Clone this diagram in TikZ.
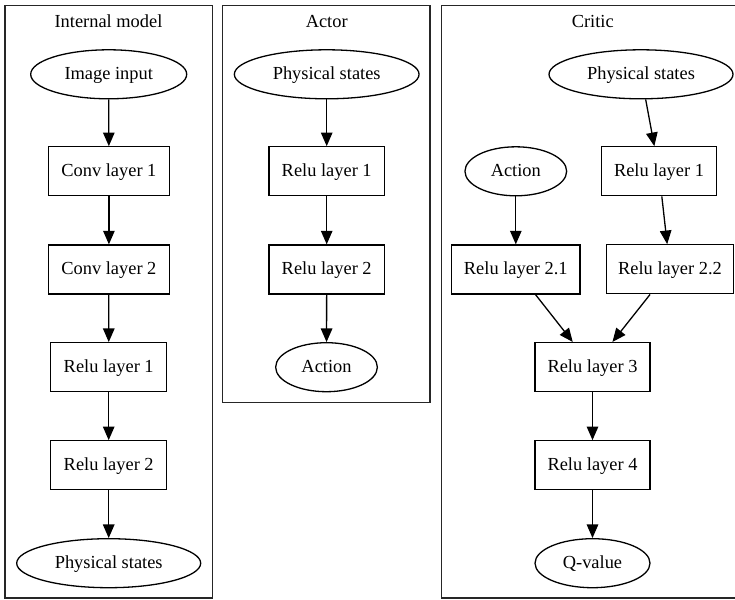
\documentclass[tikz,border=0pt]{standalone}
\usepackage{fontspec}
\setmainfont{Liberation Serif}
\usetikzlibrary{shapes.geometric,arrows.meta}
\tikzset{
  lw/.style={line width=1.3pt},
  txt/.style={font=\fontsize{18.4}{22}\selectfont,text height=14.8pt,text depth=4pt},
  boxnode/.style={draw,lw,rectangle,inner sep=0pt,minimum height=49pt,txt},
  ellnode/.style={draw,lw,ellipse,inner sep=0pt,minimum height=49pt,txt},
  cluster/.style={draw,lw,color=black!85},
  ctitle/.style={inner sep=0pt,txt},
  arr/.style={lw,-{Triangle[length=13.6pt,width=11.5pt]}},
}
\begin{document}
\begin{tikzpicture}[x=1pt,y=-1pt]
\useasboundingbox (0,0) rectangle (735,599);
\fill[white] (0,0) rectangle (735,599);
% clusters
\draw[cluster] (5,5.3) rectangle (212.3,598);
\draw[cluster] (222.7,5.3) rectangle (430,402.7);
\draw[cluster] (441.7,5.3) rectangle (745,598);
\node[ctitle] (t1) at (108.5,22.5) {Internal model};
\node[ctitle] (t2) at (326.7,22.5) {Actor};
\node[ctitle] (t3) at (592.7,22.5) {Critic};
% internal model
\node[ellnode,minimum width=156pt] (img) at (108.7,74.3) {Image input};
\node[boxnode,minimum width=120.6pt] (conv1) at (108.9,171.3) {Conv layer 1};
\node[boxnode,minimum width=120.6pt] (conv2) at (108.9,269.5) {Conv layer 2};
\node[boxnode,minimum width=116pt] (imr1) at (108.7,367.2) {Relu layer 1};
\node[boxnode,minimum width=116pt] (imr2) at (108.7,465.3) {Relu layer 2};
\node[ellnode,minimum width=184pt] (imps) at (108.7,563.2) {Physical states};
\draw[arr] (img) -- (conv1);
\draw[arr] (conv1) -- (conv2);
\draw[arr] (conv2) -- (imr1);
\draw[arr] (imr1) -- (imr2);
\draw[arr] (imr2) -- (imps);
% actor
\node[ellnode,minimum width=184.7pt] (aps) at (326.7,74.3) {Physical states};
\node[boxnode,minimum width=115.3pt] (ar1) at (326.7,171.3) {Relu layer 1};
\node[boxnode,minimum width=115.3pt] (ar2) at (326.7,269.5) {Relu layer 2};
\node[ellnode,minimum width=101.7pt] (aact) at (326.5,367.2) {Action};
\draw[arr] (aps) -- (ar1);
\draw[arr] (ar1) -- (ar2);
\draw[arr] (ar2) -- (aact);
% critic
\node[ellnode,minimum width=184pt] (cps) at (641,74.3) {Physical states};
\node[ellnode,minimum width=101.7pt] (cact) at (515.8,171.3) {Action};
\node[boxnode,minimum width=115.3pt] (cr1) at (659,171.3) {Relu layer 1};
\node[boxnode,minimum width=128.3pt] (cr21) at (515.8,269.5) {Relu layer 2.1};
\node[boxnode,minimum width=127pt] (cr22) at (670,269.3) {Relu layer 2.2};
\node[boxnode,minimum width=115pt] (cr3) at (592.5,367.1) {Relu layer 3};
\node[boxnode,minimum width=115pt] (cr4) at (592.5,465.3) {Relu layer 4};
\node[ellnode,minimum width=115pt] (qv) at (592.5,563.2) {Q-value};
\draw[arr] (cps) -- (cr1);
\draw[arr] (cact) -- (cr21);
\draw[arr] (cr1) -- (cr22);
\draw[arr] (cr21) -- (cr3);
\draw[arr] (cr22) -- (cr3);
\draw[arr] (cr3) -- (cr4);
\draw[arr] (cr4) -- (qv);
\end{tikzpicture}
\end{document}
